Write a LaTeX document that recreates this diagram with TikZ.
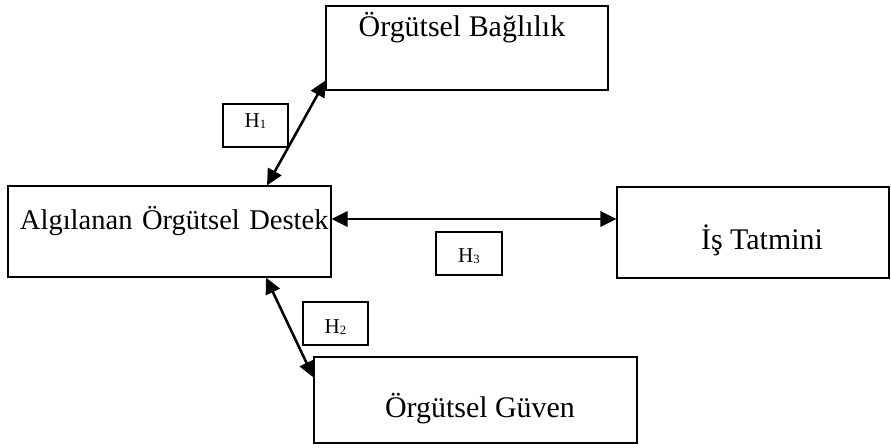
\documentclass[tikz,border=0pt]{standalone}
\usepackage{fontspec}
\setmainfont{Liberation Serif}
\usetikzlibrary{arrows.meta}
\tikzset{
  box/.style={draw,line width=0.8pt,rectangle,inner sep=0pt,font=\fontsize{21.3}{24}\selectfont},
  hbox/.style={draw,line width=1.7pt,minimum width=1.625cm,minimum height=1.075cm,inner sep=0pt,font=\fontsize{15}{17}\selectfont},
  link/.style={line width=1.8pt,{Triangle[length=0.4cm,width=0.38cm]}-{Triangle[length=0.4cm,width=0.38cm]}}
}
\newcommand{\hyp}[1]{H\raisebox{-0.6pt}{\fontsize{9}{9}\selectfont #1}}

\begin{document}
\begin{tikzpicture}
\useasboundingbox (0,0) rectangle (22.275,11.2);
\node[box,minimum width=7.05cm,minimum height=2.1cm,text height=0.55cm,text depth=1.1cm] (bag) at (11.675,10.0) {Örgütsel Bağlılık\hspace*{0.25cm}};
\node[box,font=\fontsize{20.3}{23}\selectfont,minimum height=2.275cm,text width=7.475cm,inner xsep=0.3cm,align=left,text height=0.55cm,text depth=0.625cm] (alg) at (4.2375,5.4125) {\mbox{Algılanan Örgütsel Destek}};
\node[box,minimum width=6.8cm,minimum height=2.275cm,text height=1.0cm,text depth=0.15cm] (is) at (18.825,5.3875) {\hspace*{0.45cm}İş Tatmini};
\node[box,minimum width=8.075cm,minimum height=2.15cm,text height=1.05cm,text depth=0.15cm] (guv) at (11.8875,1.2) {\hspace*{0.225cm}Örgütsel Güven};
\node[hbox,text height=0.35cm,text depth=0.25cm] (h1) at (6.3875,8.0625) {\hyp{1}};
\node[hbox,text height=0.625cm,text depth=0.1cm] (h2) at (8.3875,3.1125) {\hyp{2}};
\node[hbox,minimum width=1.65cm,text height=0.55cm,text depth=0.1cm] (h3) at (11.725,4.8625) {\hyp{3}};
\coordinate (a3) at ([yshift=0.3125cm]alg.east);
\draw[link] ([xshift=2.4375cm]alg.north) -- ([yshift=0.25cm]bag.south west);
\draw[link] (a3) -- (a3 -| is.west);
\draw[link] ([xshift=2.4125cm]alg.south) -- ([yshift=-0.525cm]guv.north west);
\end{tikzpicture}
\end{document}
